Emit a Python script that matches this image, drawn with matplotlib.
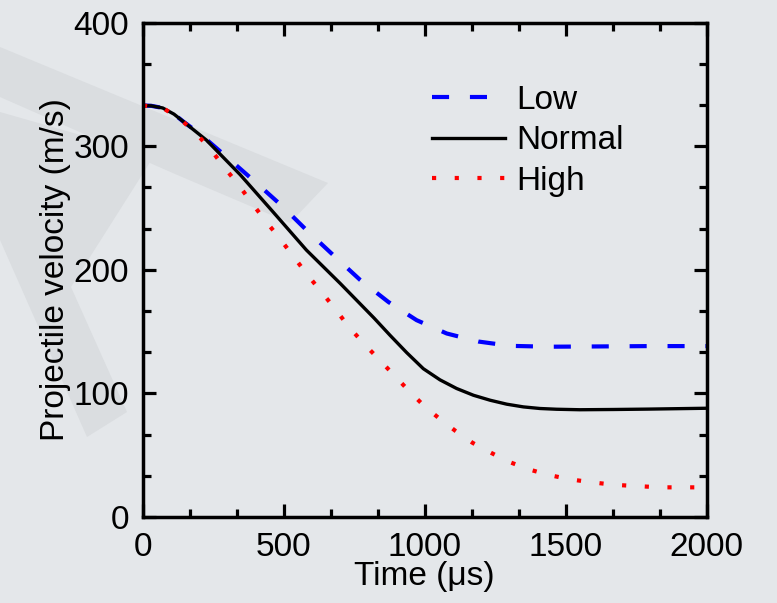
import matplotlib
matplotlib.use('Agg')
import matplotlib.pyplot as plt
from matplotlib.patches import Polygon
from matplotlib.ticker import MultipleLocator, AutoMinorLocator

# velocity histories for the three cases (time in microseconds, velocity in m/s)
t_low = [0, 30, 70, 110, 143, 202, 309, 404, 492, 581, 682, 770, 871, 971,
         1078, 1190, 1303, 1439, 1600, 1800, 2000]
v_low = [333, 332.7, 331, 326, 320, 310, 289, 270, 252, 232, 210.5, 192, 174,
         159.3, 148.5, 142, 138.5, 137.8, 138, 138.3, 138.3]

t_normal = [0, 30, 70, 110, 143, 225, 345, 465, 580, 700, 820, 877, 936, 995,
            1054, 1113, 1173, 1232, 1291, 1350, 1409, 1468, 1550, 1670, 1790,
            2000]
v_normal = [333, 332.7, 331, 326, 320, 305, 277, 246, 216, 189, 161, 147, 133,
            120, 111, 104, 98.5, 94.5, 91.3, 89.1, 87.8, 87.2, 86.8, 87, 87.3,
            88]

t_high = [0, 70, 130, 190, 240, 290, 340, 385, 430, 485, 530, 580, 630, 680,
          730, 785, 840, 890, 940, 995, 1050, 1110, 1170, 1235, 1295, 1370,
          1440, 1515, 1595, 1675, 1755, 1835, 1915, 2000]
v_high = [333, 331, 322.5, 310, 297.5, 282.5, 268.5, 254.5, 241, 225.5, 212,
          197, 183, 169, 154, 140, 127, 115, 103, 90.5, 80, 69.5, 60, 52, 45,
          38.5, 34, 30.5, 28, 26, 25, 24, 24, 24]

labels = ['Low', 'Normal', 'High']

plt.rcParams['font.family'] = ['Liberation Sans', 'DejaVu Sans']
FS = 24

W, H = 777, 603
fig = plt.figure(figsize=(W / 100, H / 100), dpi=100)
fig.patch.set_facecolor('#e4e7ea')


def px(points):
    # pixel positions (top-left origin) -> figure fraction
    return [(x / W, 1 - y / H) for x, y in points]


# faint background logo shape
arm1 = [(0, 47), (328, 183), (290, 223), (175, 174), (0, 97)]
arm2 = [(0, 112), (154, 156), (71, 287), (127, 412), (87, 437), (0, 240)]
for shape in (arm1, arm2):
    fig.patches.append(Polygon(px(shape), closed=True, transform=fig.transFigure,
                               facecolor='#dadde0', edgecolor='none', zorder=-1))

ax = fig.add_axes([143 / W, 1 - 517 / H, (706.5 - 143) / W, (517 - 22.7) / H])
ax.set_facecolor('none')

ax.plot(t_low, v_low, color='#0000ff', lw=3, linestyle=(0, (4.1, 5.0)),
        dash_capstyle='butt', label=labels[0])
ax.plot(t_normal, v_normal, color='black', lw=2.4, label=labels[1])
ax.plot(t_high, v_high, color='#ff0000', lw=3, linestyle=(0, (1, 4.45)),
        dash_capstyle='butt', label=labels[2])

ax.set_xlim(0, 2000)
ax.set_ylim(0, 400)
ax.xaxis.set_major_locator(MultipleLocator(500))
ax.yaxis.set_major_locator(MultipleLocator(100))
ax.xaxis.set_minor_locator(AutoMinorLocator(3))
ax.yaxis.set_minor_locator(AutoMinorLocator(3))

for side in ax.spines.values():
    side.set_linewidth(2.5)
ax.tick_params(which='both', direction='in', top=True, right=True,
               width=2.3, labelsize=FS, colors='black')
ax.tick_params(which='major', length=9.5)
ax.tick_params(which='minor', length=5.5)
ax.tick_params(axis='x', pad=11)
ax.tick_params(axis='y', pad=10)

ax.set_xlabel('Time (μs)', fontsize=FS, labelpad=-2)
ax.set_ylabel('Projectile velocity (m/s)', fontsize=FS, labelpad=2)

ax.legend(loc='upper left', bbox_to_anchor=(432 / W, 1 - 85 / H),
          bbox_transform=fig.transFigure, frameon=False, fontsize=FS,
          handlelength=2.2, handletextpad=0.32, labelspacing=0.28,
          borderpad=0, borderaxespad=0)

fig.savefig('out.png', dpi=100, facecolor=fig.get_facecolor())
